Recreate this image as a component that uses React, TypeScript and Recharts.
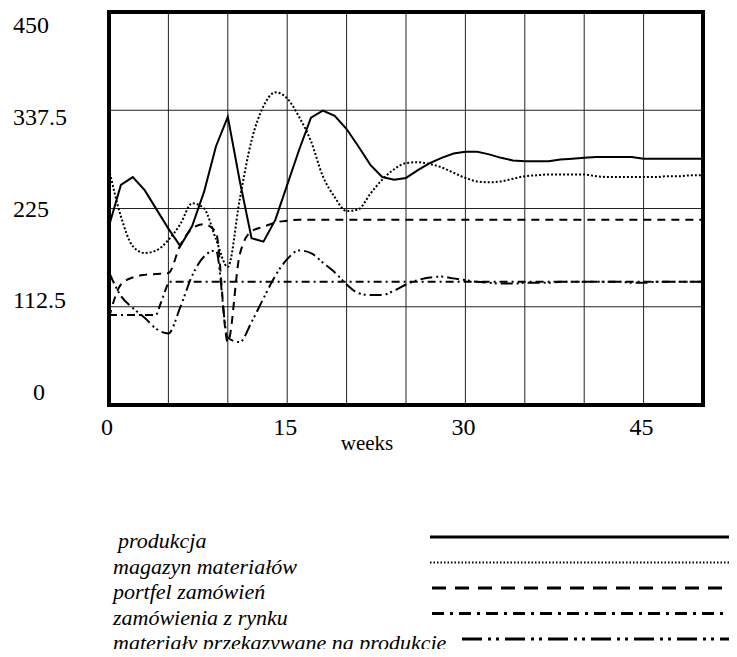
import React from "react";
import {
  LineChart,
  Line,
  CartesianGrid,
  XAxis,
  YAxis,
  ReferenceArea,
  Label,
} from "recharts";

const weeks = [
  0, 1, 2, 3, 4, 5, 6, 7, 8, 9, 10, 11, 12, 13, 14, 15, 16, 17, 18, 19, 20, 21,
  22, 23, 24, 25, 26, 27, 28, 29, 30, 31, 32, 33, 34, 35, 36, 37, 38, 39, 40,
  41, 42, 43, 44, 45, 46, 47, 48, 49, 50,
];

const produkcja = [
  205, 252, 261, 246, 224, 202, 182, 205, 244, 296, 330, 257, 191, 187, 212,
  252, 292, 329, 337, 331, 316, 296, 275, 261, 258, 260, 269, 277, 283, 288,
  290, 290, 287, 283, 280, 279, 279, 279, 281, 282, 283, 284, 284, 284, 284,
  282, 282, 282, 282, 282, 282,
];

const magazynMaterialow = [
  270, 216, 182, 174, 177, 189, 207, 231, 225, 190, 158, 235, 303, 342, 358,
  351, 330, 302, 262, 238, 222, 224, 242, 258, 270, 277, 278, 276, 272, 266,
  260, 256, 255, 256, 259, 262, 263, 264, 264, 264, 264, 262, 261, 261, 261,
  261, 261, 262, 262, 263, 263,
];

const portfelZamowien = [
  100, 138, 146, 149, 150, 151, 183, 202, 207, 198, 72, 172, 199, 204, 209,
  211, 212, 212, 212, 212, 212, 212, 212, 212, 212, 212, 212, 212, 212, 212,
  212, 212, 212, 212, 212, 212, 212, 212, 212, 212, 212, 212, 212, 212, 212,
  212, 212, 212, 212, 212, 212,
];

const zamowieniaZRynku = [
  103, 103, 103, 103, 103, 141, 141, 141, 141, 141, 141, 141, 141, 141, 141,
  141, 141, 141, 141, 141, 141, 141, 141, 141, 141, 141, 141, 141, 141, 141,
  141, 141, 141, 141, 141, 141, 141, 141, 141, 141, 141, 141, 141, 141, 141,
  141, 141, 141, 141, 141, 141,
];

const materialyNaProdukcje = [
  152, 125, 111, 100, 87, 82, 112, 148, 170, 177, 77, 72, 95, 122, 148, 167,
  177, 174, 163, 152, 138, 128, 126, 126, 131, 138, 143, 146, 147, 145, 143,
  141, 140, 139, 139, 140, 140, 140, 141, 141, 141, 141, 141, 141, 140, 140,
  141, 141, 141, 141, 141,
];

const xTicks = [0, 15, 30, 45];
const yTicks = [0, 112.5, 225, 337.5, 450];
const gridX = [0, 5, 10, 15, 20, 25, 30, 35, 40, 45, 50];

const seriesNames = [
  "produkcja",
  "magazyn materiałów",
  "portfel zamówień",
  "zamówienia z rynku",
  "materiały przekazywane na produkcję",
];

const rows = weeks.map((w, i) => ({
  week: w,
  produkcja: produkcja[i],
  magazyn: magazynMaterialow[i],
  portfel: portfelZamowien[i],
  zamowienia: zamowieniaZRynku[i],
  materialy: materialyNaProdukcje[i],
}));

const FONT =
  "'Liberation Serif', Tinos, 'Times New Roman', Times, 'DejaVu Serif', serif";
const txt = { fontFamily: FONT };

// plot line styles + legend sample styles
const styles = [
  { key: "produkcja", type: "linear", dash: undefined, legendDash: undefined, width: 2, lw: 3, tx: 118, lx1: 430 },
  { key: "magazyn", type: "monotone", dash: "2 2", legendDash: "1.5 2", width: 2, lw: 2, tx: 113, lx1: 430 },
  { key: "portfel", type: "monotone", dash: "8 6", legendDash: "14 9", width: 2, lw: 3, tx: 113, lx1: 432 },
  { key: "zamowienia", type: "linear", dash: "8 4 2 4", legendDash: "12 6 3 6", width: 2, lw: 3, tx: 113, lx1: 432 },
  { key: "materialy", type: "monotone", dash: "12 4 2 3 2 4", legendDash: "20 6 3 5 3 6", width: 2, lw: 3, tx: 113, lx1: 462 },
];

function YTick(props: any) {
  const { y, payload } = props;
  const v = payload.value;
  const dy = -5 + (26 * v) / 450;
  return (
    <text
      x={v === 0 ? 33 : 13}
      y={y + dy}
      fontSize={24}
      style={txt}
      fill="#000"
      textAnchor="start"
    >
      {String(v)}
    </text>
  );
}

function XTick(props: any) {
  const { x, payload } = props;
  return (
    <text
      x={x - 2}
      y={435}
      fontSize={24}
      style={txt}
      fill="#000"
      textAnchor="middle"
    >
      {String(payload.value)}
    </text>
  );
}

function WeeksLabel() {
  return (
    <text x={367} y={450} fontSize={21} style={txt} fill="#000" textAnchor="middle">
      weeks
    </text>
  );
}

export default function App() {
  return (
    <div
      style={{
        position: "relative",
        width: 737,
        height: 657,
        margin: -8,
        background: "#fff",
        fontFamily: FONT,
      }}
    >
      <LineChart
        width={737}
        height={470}
        data={rows}
        margin={{ top: 12, right: 34, left: 0, bottom: 20 }}
      >
        <CartesianGrid
          stroke="#222"
          strokeWidth={1}
          verticalValues={gridX}
          horizontalValues={yTicks}
        />
        <XAxis
          dataKey="week"
          type="number"
          domain={[0, 50]}
          ticks={xTicks}
          height={45}
          axisLine={false}
          tickLine={false}
          tick={<XTick />}
          interval={0}
        >
          <Label content={<WeeksLabel />} />
        </XAxis>
        <YAxis
          type="number"
          domain={[0, 450]}
          ticks={yTicks}
          width={109}
          axisLine={false}
          tickLine={false}
          tick={<YTick />}
          interval={0}
        />
        {styles.map((s) => (
          <Line
            key={s.key}
            dataKey={s.key}
            type={s.type as any}
            stroke="#000"
            strokeWidth={s.width}
            strokeDasharray={s.dash}
            dot={false}
            activeDot={false}
            isAnimationActive={false}
          />
        ))}
        <ReferenceArea
          x1={0}
          x2={50}
          y1={0}
          y2={450}
          fill="none"
          fillOpacity={0}
          stroke="#000"
          strokeWidth={4}
          ifOverflow="visible"
        />
      </LineChart>
      <svg
        width={737}
        height={187}
        style={{ position: "absolute", left: 0, top: 470 }}
      >
        {seriesNames.map((name, i) => {
          const s = styles[i];
          const lineY = 537 - 470 + i * 25.5;
          return (
            <g key={name}>
              <text
                x={s.tx}
                y={lineY + 11}
                fontSize={22}
                fontStyle="italic"
                style={txt}
                fill="#000"
              >
                {name}
              </text>
              <line
                x1={s.lx1}
                x2={737}
                y1={lineY}
                y2={lineY}
                stroke="#000"
                strokeWidth={s.lw}
                strokeDasharray={s.legendDash}
              />
            </g>
          );
        })}
      </svg>
    </div>
  );
}
